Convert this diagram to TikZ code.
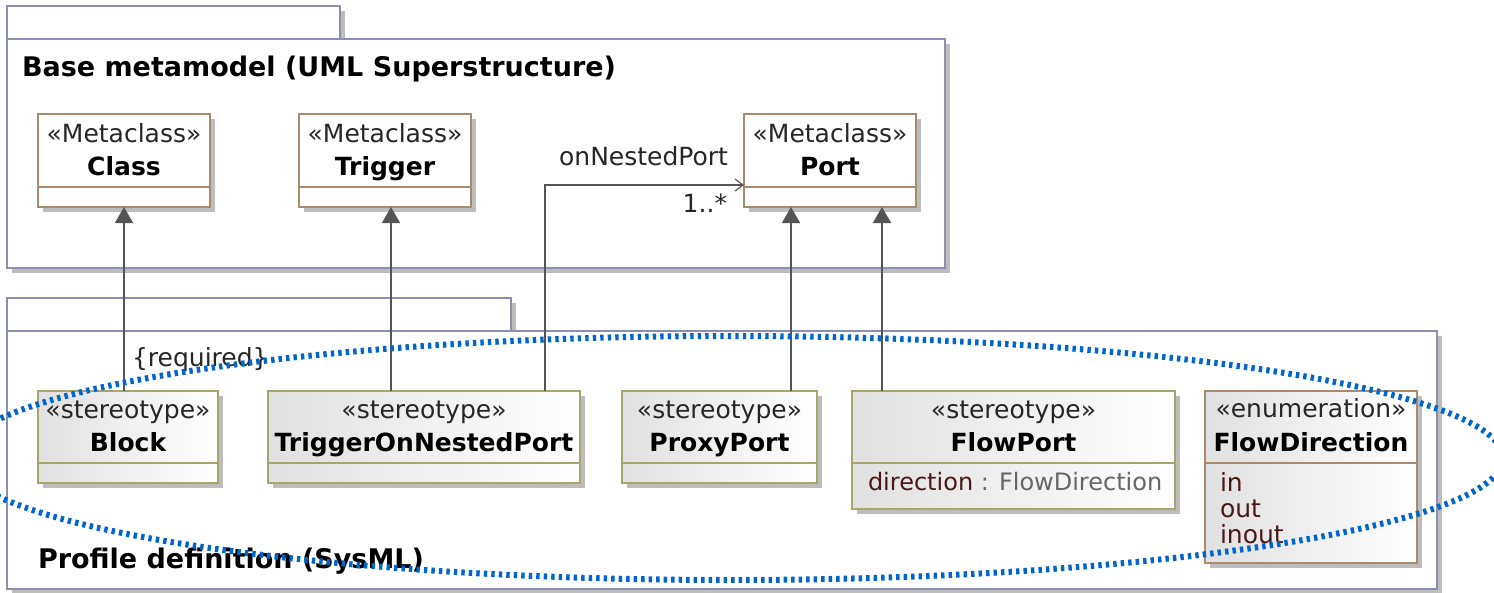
\documentclass[tikz,border=0pt]{standalone}
\usepackage{fontspec}
\setmainfont{DejaVu Sans}
\usetikzlibrary{arrows.meta,shadows}
\definecolor{pkgcol}{HTML}{8A90AE}
\definecolor{mccol}{HTML}{A88A6E}
\definecolor{stcol}{HTML}{A8A46E}
\definecolor{concol}{HTML}{555555}
\definecolor{hicol}{HTML}{0066CC}
\definecolor{attrcol}{HTML}{4A1818}
\definecolor{shadowcol}{HTML}{BDBDBD}

\begin{document}
\begin{tikzpicture}[x=1pt, y=-1pt,
  every node/.style={inner sep=0pt, outer sep=0pt, text=black!85, font=\fontsize{25}{29}\selectfont},
  shad/.style={drop shadow={shadow xshift=5pt, shadow yshift=-5pt, fill=shadowcol, opacity=1}},
  pkg/.style={draw=pkgcol, line width=2pt, fill=white, shad, anchor=north west},
  metaclass/.style={draw=mccol, line width=1.5pt, fill=white, shad, anchor=north west},
  stereo/.style={draw=stcol, line width=1.5pt, left color=black!12, right color=white, shad, anchor=north west},
  enum/.style={stereo, draw=mccol},
  kw/.style={anchor=base},
  bname/.style={anchor=base, text=black, font=\fontsize{25}{29}\selectfont\bfseries},
  pkgname/.style={anchor=base west, text=black, font=\fontsize{27}{31}\selectfont\bfseries},
  ext/.style={draw=concol, line width=1.5pt, -{Triangle[width=18pt,length=16pt]}},
  assoc/.style={draw=concol, line width=1.2pt, -{Straight Barb[width=12pt,length=8pt]}},
  hilite/.style={draw=hicol, line width=6pt, dash pattern=on 3.4pt off 4.1pt}
]
\useasboundingbox (0,0) rectangle (1494,592);
\clip (0,0) rectangle (1494,592);

\node[pkg, minimum width=333pt, minimum height=33pt] (basetab) at (7,6) {};
\node[pkg, minimum width=938pt, minimum height=229pt] (basepkg) at (7,39) {};
\node[pkgname] (basettl) at (22,76) {Base metamodel (UML Superstructure)};

\node[pkg, minimum width=504pt, minimum height=33pt] (proftab) at (7,298) {};
\node[pkg, minimum width=1430pt, minimum height=258pt] (profpkg) at (7,331) {};
\node[pkgname] (profttl) at (38,568) {Profile definition (SysML)};

\node[metaclass, minimum width=172pt, minimum height=93pt] (class) at (38,114) {};
\draw[mccol, line width=1.5pt] ([yshift=-73pt]class.north west) -- ([yshift=-73pt]class.north east);
\node[kw] (classkw) at (class.north |- 0,142) {«Metaclass»};
\node[bname] (classnm) at (class.north |- 0,175) {Class};

\node[metaclass, minimum width=172pt, minimum height=93pt] (trigger) at (299,114) {};
\draw[mccol, line width=1.5pt] ([yshift=-73pt]trigger.north west) -- ([yshift=-73pt]trigger.north east);
\node[kw] (triggerkw) at (trigger.north |- 0,142) {«Metaclass»};
\node[bname] (triggernm) at (trigger.north |- 0,175) {Trigger};

\node[metaclass, minimum width=172pt, minimum height=93pt] (port) at (744,114) {};
\draw[mccol, line width=1.5pt] ([yshift=-73pt]port.north west) -- ([yshift=-73pt]port.north east);
\node[kw] (portkw) at (port.north |- 0,142) {«Metaclass»};
\node[bname] (portnm) at (port.north |- 0,175) {Port};

\node[stereo, minimum width=180pt, minimum height=92pt] (block) at (38,391) {};
\draw[stcol, line width=1.5pt] ([yshift=-72pt]block.north west) -- ([yshift=-72pt]block.north east);
\node[kw] (blockkw) at (block.north |- 0,418) {«stereotype»};
\node[bname] (blocknm) at (block.north |- 0,451) {Block};

\node[stereo, minimum width=312pt, minimum height=92pt] (tonp) at (268,391) {};
\draw[stcol, line width=1.5pt] ([yshift=-72pt]tonp.north west) -- ([yshift=-72pt]tonp.north east);
\node[kw] (tonpkw) at (tonp.north |- 0,418) {«stereotype»};
\node[bname] (tonpnm) at (tonp.north |- 0,451) {TriggerOnNestedPort};

\node[stereo, minimum width=195pt, minimum height=92pt] (proxy) at (622,391) {};
\draw[stcol, line width=1.5pt] ([yshift=-72pt]proxy.north west) -- ([yshift=-72pt]proxy.north east);
\node[kw] (proxykw) at (proxy.north |- 0,418) {«stereotype»};
\node[bname] (proxynm) at (proxy.north |- 0,451) {ProxyPort};

\node[stereo, minimum width=323pt, minimum height=118pt] (flowport) at (852,391) {};
\draw[stcol, line width=1.5pt] ([yshift=-72pt]flowport.north west) -- ([yshift=-72pt]flowport.north east);
\node[kw] (flowportkw) at (flowport.north |- 0,418) {«stereotype»};
\node[bname] (flowportnm) at (flowport.north |- 0,451) {FlowPort};
\node[anchor=base west, font=\fontsize{24}{28}\selectfont] (flowportattr) at (868,490) {\textcolor{attrcol}{direction} \textcolor{black!60}{: FlowDirection}};

\node[enum, minimum width=212pt, minimum height=172pt] (flowdir) at (1205,391) {};
\draw[mccol, line width=1.5pt] ([yshift=-72pt]flowdir.north west) -- ([yshift=-72pt]flowdir.north east);
\node[kw] (flowdirkw) at (flowdir.north |- 0,417) {«enumeration»};
\node[bname] (flowdirnm) at (flowdir.north |- 0,451) {FlowDirection};
\node[anchor=base west, text=attrcol] (fdin) at (1220,491) {in};
\node[anchor=base west, text=attrcol] (fdout) at (1220,517) {out};
\node[anchor=base west, text=attrcol] (fdinout) at (1220,543) {inout};

\coordinate (trgx) at (391,0);
\coordinate (onx) at (545,185);
\coordinate (ppx) at (791,0);
\coordinate (fpx) at (882,0);

\draw[ext] (block.north -| class.south) -- (class.south);
\draw[ext] (tonp.north -| trgx) -- (trigger.south -| trgx);
\draw[assoc] (tonp.north -| onx) |- (port.west |- onx);
\draw[ext] (proxy.north -| ppx) -- (port.south -| ppx);
\draw[ext] (flowport.north -| fpx) -- (port.south -| fpx);

\node[anchor=base east] (onlbl) at (728,165) {onNestedPort};
\node[anchor=base east] (multlbl) at (727,212) {1..*};
\node[anchor=base west] (reqlbl) at (132,366) {\{required\}};

\draw[hilite] (731,458) ellipse [x radius=772, y radius=122];

\end{tikzpicture}
\end{document}
